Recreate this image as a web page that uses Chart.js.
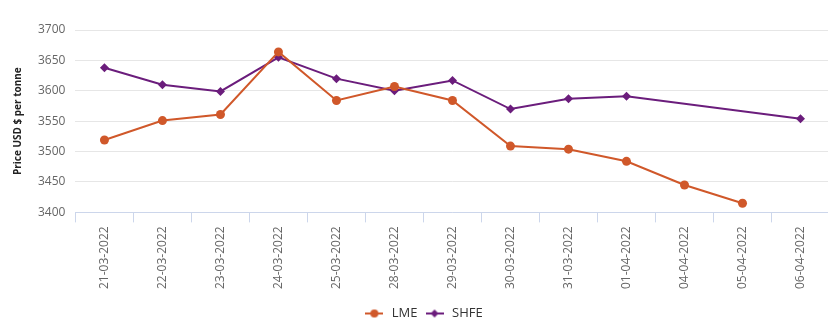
<!DOCTYPE html>
<html>
<head>
<meta charset="utf-8">
<script src="https://cdn.jsdelivr.net/npm/chart.js@4"></script>
<style>
  html, body { margin: 0; padding: 0; background: #fff; overflow: hidden; }
  #wrap { width: 834px; height: 327px; }
</style>
</head>
<body>
<div id="wrap"><canvas id="priceChart"></canvas></div>
<script>
// dates on the x axis
var dates = ['21-03-2022', '22-03-2022', '23-03-2022', '24-03-2022', '25-03-2022', '28-03-2022',
             '29-03-2022', '30-03-2022', '31-03-2022', '01-04-2022', '04-04-2022', '05-04-2022', '06-04-2022'];
// LME price, USD per tonne
var lmeValues = [3519, 3551, 3561, 3664, 3584, 3607, 3584, 3509, 3504, 3484, 3445, 3415, null];
// SHFE price, USD per tonne
var shfeValues = [3638, 3610, 3599, 3655, 3620, 3600, 3617, 3570, 3587, 3591, null, null, 3554];
var yTicks = [3400, 3450, 3500, 3550, 3600, 3650, 3700];

var lmeColor = '#d0582a';
var shfeColor = '#6b1d7c';

// legend symbol: short line with the marker on it
function legendIcon(color, shape) {
  var c = document.createElement('canvas');
  c.width = 18; c.height = 10;
  var g = c.getContext('2d');
  g.strokeStyle = color;
  g.lineWidth = 2;
  g.beginPath();
  g.moveTo(0, 5); g.lineTo(18, 5);
  g.stroke();
  g.fillStyle = color;
  g.beginPath();
  if (shape == 'circle') {
    g.arc(9, 5, 4, 0, Math.PI * 2);
  } else {
    g.moveTo(9, 1); g.lineTo(13, 5); g.lineTo(9, 9); g.lineTo(5, 5); g.closePath();
  }
  g.fill();
  return c;
}

window.onload = function() {
  var ctx = document.getElementById('priceChart').getContext('2d');
  var priceChart = new Chart(ctx, {
    type: 'line',
    data: {
      labels: dates,
      datasets: [
        {
          label: 'LME',
          data: lmeValues,
          borderColor: lmeColor,
          backgroundColor: lmeColor,
          borderWidth: 2,
          pointStyle: 'circle',
          pointRadius: 4.5,
          pointBorderWidth: 0,
          spanGaps: true,
          tension: 0
        },
        {
          label: 'SHFE',
          data: shfeValues,
          borderColor: shfeColor,
          backgroundColor: shfeColor,
          borderWidth: 2,
          pointStyle: 'rectRot',
          pointRadius: 4.5,
          pointBorderWidth: 0,
          spanGaps: true,
          tension: 0
        }
      ]
    },
    options: {
      responsive: true,
      maintainAspectRatio: false,
      animation: false,
      layout: { padding: { top: 30, right: 0, left: 12, bottom: -3 } },
      plugins: {
        legend: {
          position: 'bottom',
          labels: {
            usePointStyle: true,
            pointStyleWidth: 22,
            color: '#333',
            font: { family: 'Open Sans', size: 13 },
            padding: 6,
            generateLabels: function(chart) {
              return chart.data.datasets.map(function(ds, i) {
                return {
                  text: ds.label,
                  fillStyle: ds.borderColor,
                  strokeStyle: ds.borderColor,
                  fontColor: '#333',
                  pointStyle: legendIcon(ds.borderColor, i == 0 ? 'circle' : 'diamond'),
                  datasetIndex: i,
                  hidden: !chart.isDatasetVisible(i)
                };
              });
            }
          }
        },
        tooltip: { enabled: false }
      },
      scales: {
        x: {
          offset: true,
          afterFit: function(scale) { scale.height += 8; },
          grid: {
            offset: true,
            drawOnChartArea: false,
            drawTicks: true,
            tickLength: 10,
            color: '#ccd6eb'
          },
          border: { color: '#ccd6eb' },
          ticks: {
            minRotation: 90,
            maxRotation: 90,
            color: '#666',
            padding: 4,
            font: { family: 'Open Sans', size: 12 }
          }
        },
        y: {
          min: 3400,
          max: 3700,
          afterBuildTicks: function(axis) {
            axis.ticks = yTicks.map(function(v) { return { value: v }; });
          },
          grid: { color: '#e6e6e6', drawTicks: false },
          border: { display: false },
          ticks: {
            color: '#666',
            padding: 10,
            font: { family: 'Open Sans', size: 12 },
            callback: function(value) { return String(value); }
          },
          title: {
            display: true,
            text: 'Price USD $ per tonne',
            color: '#222',
            font: { family: 'Open Sans', size: 10, weight: 'bold' },
            padding: { top: 0, bottom: 4 }
          }
        }
      }
    }
  });
};
</script>
</body>
</html>
